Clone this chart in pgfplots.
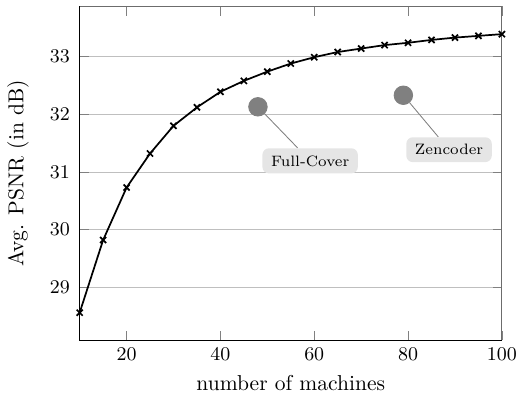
\documentclass[border=0pt]{standalone}
\usepackage{pgfplots}
\pgfplotsset{compat=1.18}
\begin{document}
\begin{tikzpicture}
\begin{axis}[
  scale only axis,
  width=196pt, height=155pt,
  xmin=10, xmax=100,
  ymin=28.08, ymax=33.87,
  xtick={20,40,60,80,100},
  ytick={29,30,31,32,33},
  ymajorgrids,
  grid style={gray!50},
  axis line style={gray!85!black},
  tick style={gray},
  xlabel={number of machines},
  ylabel={Avg. PSNR (in dB)},
  ylabel style={yshift=3pt},
  tick label style={font=\small},
  yticklabel style={xshift=-1pt},
  xticklabel style={inner xsep=1pt},
  clip=false,
]
\draw[black] (rel axis cs:0,1) -- (rel axis cs:0,0) -- (rel axis cs:1,0);
\addplot[black, thick, mark=x, mark options={solid}] coordinates {
(10,28.56) (15,29.82) (20,30.73) (25,31.32) (30,31.80) (35,32.12) (40,32.39)
(45,32.58) (50,32.74) (55,32.88) (60,32.99) (65,33.08) (70,33.14) (75,33.20)
(80,33.24) (85,33.29) (90,33.33) (95,33.36) (100,33.39)
};
\addplot[only marks, mark=*, mark size=4.3pt, color=gray, mark options={draw=gray, fill=gray}]
 coordinates {(48,32.13)}
 node[circle, inner sep=0pt, minimum size=8.6pt, pin={[pin distance=22pt, pin edge={gray, thin}, text=black, anchor=134, fill=gray!20, rounded corners=3pt, inner xsep=4pt, inner ysep=3.3pt, font=\scriptsize]-46:{Full-Cover}}] {};
\addplot[only marks, mark=*, mark size=4.3pt, color=gray, mark options={draw=gray, fill=gray}]
 coordinates {(79,32.33)}
 node[circle, inner sep=0pt, minimum size=8.6pt, pin={[pin distance=20.7pt, pin edge={gray, thin}, text=black, anchor=130, fill=gray!20, rounded corners=3pt, inner xsep=4pt, inner ysep=3.3pt, font=\scriptsize]-50:{Zencoder}}] {};
\end{axis}
\path ([yshift=3pt]current axis.north west);
\end{tikzpicture}
\end{document}
